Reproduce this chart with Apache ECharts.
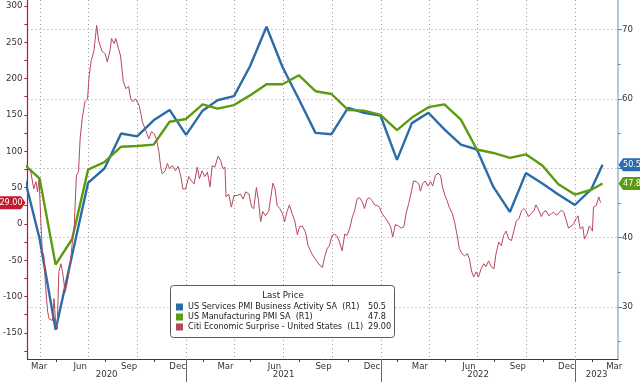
<!DOCTYPE html>
<html><head><meta charset="utf-8">
<script src="https://cdn.jsdelivr.net/npm/echarts@6/dist/echarts.min.js"></script>
<style>html,body{margin:0;padding:0;background:#fff}#c{width:640px;height:382px}</style>
</head><body><div id="c"></div>
<script>
// ---------- data ----------
const seriesNames = ['US Services PMI Business Activity SA', 'US Manufacturing PMI SA', 'Citi Economic Surprise - United States'];
const axisTags = ['R1', 'R1', 'L1'];
const pmiDates = ['2020-02-29','2020-03-31','2020-04-30','2020-05-31','2020-06-30','2020-07-31','2020-08-31','2020-09-30','2020-10-31','2020-11-30','2020-12-31',
  '2021-01-31','2021-02-28','2021-03-31','2021-04-30','2021-05-31','2021-06-30','2021-07-31','2021-08-31','2021-09-30','2021-10-31','2021-11-30','2021-12-31',
  '2022-01-31','2022-02-28','2022-03-31','2022-04-30','2022-05-31','2022-06-30','2022-07-31','2022-08-31','2022-09-30','2022-10-31','2022-11-30','2022-12-31',
  '2023-01-31','2023-02-21'];
const servicesPMI = [49.4,39.8,26.7,37.5,47.9,50.0,55.0,54.6,56.9,58.4,54.8,
  58.3,59.8,60.4,64.7,70.4,64.6,59.9,55.1,54.9,58.7,58.0,57.6,
  51.2,56.5,58.0,55.6,53.4,52.7,47.3,43.7,49.3,47.8,46.2,44.7,
  47.0,50.5];
const manufacturingPMI = [50.7,48.5,36.1,39.8,49.8,50.9,53.1,53.2,53.4,56.7,57.1,
  59.2,58.6,59.1,60.5,62.1,62.1,63.4,61.1,60.7,58.4,58.3,57.7,
  55.5,57.3,58.8,59.2,57.0,52.7,52.2,51.5,52.0,50.4,47.7,46.2,
  46.9,47.8];
const citiDates = ['2020-03-08','2020-03-14','2020-03-20','2020-03-24','2020-03-27','2020-03-30','2020-04-02','2020-04-05','2020-04-08','2020-04-11',
  '2020-04-15','2020-04-18','2020-04-24','2020-04-27','2020-04-30','2020-05-03','2020-05-06','2020-05-10','2020-05-13','2020-05-18',
  '2020-05-22','2020-05-27','2020-06-01','2020-06-04','2020-06-08','2020-06-12','2020-06-15','2020-06-19','2020-06-24','2020-06-29',
  '2020-07-02','2020-07-06','2020-07-11','2020-07-16','2020-07-20','2020-07-26','2020-08-01','2020-08-05','2020-08-10','2020-08-13',
  '2020-08-18','2020-08-21','2020-08-26','2020-08-30','2020-09-04','2020-09-09','2020-09-14','2020-09-18','2020-09-22','2020-09-27',
  '2020-10-04','2020-10-10','2020-10-15','2020-10-22','2020-10-27','2020-11-01','2020-11-05','2020-11-10','2020-11-13','2020-11-16',
  '2020-11-21','2020-11-26','2020-11-30','2020-12-05','2020-12-11','2020-12-16','2020-12-21','2020-12-25','2020-12-30','2021-01-05',
  '2021-01-10','2021-01-15','2021-01-21','2021-01-25','2021-01-30','2021-02-04','2021-02-09','2021-02-14','2021-02-18','2021-02-23',
  '2021-03-01','2021-03-06','2021-03-10','2021-03-14','2021-03-16','2021-03-21','2021-03-26','2021-03-31','2021-04-06','2021-04-12',
  '2021-04-17','2021-04-22','2021-04-28','2021-05-03','2021-05-07','2021-05-12','2021-05-16','2021-05-20','2021-05-24','2021-05-29',
  '2021-06-04','2021-06-12','2021-06-16','2021-06-20','2021-06-25','2021-06-30','2021-07-04','2021-07-09','2021-07-13','2021-07-18',
  '2021-07-23','2021-07-28','2021-08-01','2021-08-06','2021-08-12','2021-08-17','2021-08-24','2021-08-30','2021-09-03','2021-09-08',
  '2021-09-13','2021-09-17','2021-09-22','2021-09-26','2021-10-01','2021-10-06','2021-10-11','2021-10-15','2021-10-20','2021-10-25',
  '2021-10-29','2021-11-03','2021-11-08','2021-11-12','2021-11-17','2021-11-22','2021-11-27','2021-12-01','2021-12-06','2021-12-10',
  '2021-12-15','2021-12-20','2021-12-25','2021-12-29','2022-01-03','2022-01-08','2022-01-13','2022-01-19','2022-01-23','2022-01-28',
  '2022-02-03','2022-02-08','2022-02-13','2022-02-17','2022-02-22','2022-02-27','2022-03-03','2022-03-08','2022-03-13','2022-03-16',
  '2022-03-20','2022-03-25','2022-03-30','2022-04-04','2022-04-08','2022-04-13','2022-04-18','2022-04-23','2022-04-26','2022-05-01',
  '2022-05-05','2022-05-09','2022-05-15','2022-05-19','2022-05-24','2022-05-28','2022-06-02','2022-06-07','2022-06-12','2022-06-16',
  '2022-06-20','2022-06-24','2022-06-29','2022-07-03','2022-07-08','2022-07-13','2022-07-17','2022-07-22','2022-07-27','2022-08-01',
  '2022-08-05','2022-08-10','2022-08-15','2022-08-19','2022-08-24','2022-08-29','2022-09-03','2022-09-07','2022-09-12','2022-09-17',
  '2022-09-22','2022-09-26','2022-09-30','2022-10-05','2022-10-10','2022-10-15','2022-10-19','2022-10-24','2022-10-29','2022-11-02',
  '2022-11-07','2022-11-12','2022-11-17','2022-11-21','2022-11-26','2022-11-30','2022-12-06','2022-12-10','2022-12-14','2022-12-19',
  '2022-12-24','2022-12-29','2023-01-02','2023-01-06','2023-01-10','2023-01-15','2023-01-18','2023-01-23','2023-01-27','2023-01-31',
  '2023-02-02','2023-02-04','2023-02-09','2023-02-12','2023-02-14','2023-02-17','2023-02-18'];
const citiSurprise = [76,73,48,58,44,62,7,-39,-44,-85,
  -121,-131,-133,-103,-135,-145,-66,-55,-66,-94,
  -80,-58,-21,-3,66,72,117,145,168,172,
  204,225,238,273,251,238,234,223,238,255,
  248,255,241,231,196,186,189,172,168,172,
  163,140,131,117,127,124,117,99,80,69,
  72,83,76,80,73,79,66,48,48,65,
  59,55,78,62,73,65,71,51,80,78,
  93,87,76,78,37,41,23,39,39,41,
  34,44,41,23,21,50,32,3,17,11,
  17,56,48,25,21,14,3,18,26,14,
  4,-15,-4,-3,-11,-30,-41,-48,-52,-57,
  -60,-46,-34,-30,-16,-14,-18,-25,-37,-14,
  -16,-7,9,17,34,36,30,21,34,36,
  32,26,25,23,14,9,4,-4,-18,-1,
  -3,-6,-4,14,28,44,59,58,55,45,
  55,59,52,58,52,66,70,66,52,39,
  32,23,14,3,-16,-34,-41,-44,-41,-48,
  -65,-73,-66,-73,-62,-55,-59,-51,-59,-62,
  -41,-25,-30,-16,-10,-21,-23,-11,4,7,
  18,21,18,10,14,18,26,19,10,16,
  18,11,14,16,12,14,19,16,7,-6,
  -3,0,7,11,-7,-4,-21,-14,-3,-7,
  -10,23,25,26,37,30,29];
const monthTickLabels = ['Mar', 'Jun', 'Sep', 'Dec'];
const yearLabels = ['2020', '2021', '2022', '2023'];
const leftLabels = [-150, -100, -50, 0, 50, 100, 150, 200, 250, 300];
const rightLabels = [30, 40, 60, 70];
const rightGrid = [30, 40, 50, 60, 70];
const rightMinor = [25, 35, 45, 55, 65];

// ---------- layout helpers ----------
const FONT = "'Liberation Sans Narrow','DejaVu Sans Condensed','Liberation Sans',Arial,sans-serif";
const xMin = '2020-03-08', xMax = '2023-03-22';
const t = s => { const p = s.split('-').map(Number); return Date.UTC(p[0], p[1] - 1, p[2]); };
const pad = n => (n < 10 ? '0' : '') + n;
const inRange = v => v >= t(xMin) && v <= t(xMax);
const years = [2020, 2021, 2022, 2023];
const labelMonths = [3, 6, 9, 12];
const monthLabelValues = [], quarterStarts = [], midTicks = [], yearStarts = [], yearMids = [];
years.forEach(y => {
  labelMonths.forEach(m => { const v = t(`${y}-${pad(m)}-15`); if (inRange(v)) monthLabelValues.push(v); });
  [1, 4, 7, 10].forEach(m => { const v = t(`${y}-${pad(m)}-01`); if (inRange(v)) quarterStarts.push(v); });
  [2, 5, 8, 11].forEach(m => { const v = t(`${y}-${pad(m)}-01`); if (inRange(v)) midTicks.push(v); });
  const ys = t(`${y}-01-01`), ye = t(`${y + 1}-01-01`);
  if (inRange(ys)) yearStarts.push(ys);
  yearMids.push((Math.max(ys, t(xMin)) + Math.min(ye, t(xMax))) / 2);
});
const leftTicks = [];
for (let v = -175; v <= 300; v += 25) leftTicks.push(v);

const COLORS = ['#2b6ca8', '#5c9a10', '#b5485c'];
const last = a => a[a.length - 1];
const lastText = [last(servicesPMI).toFixed(1), last(manufacturingPMI).toFixed(1), last(citiSurprise).toFixed(2)];

const gridRect = { left: 27, right: 22, top: 0, bottom: 23 };
const baseX = { type: 'value', min: t(xMin), max: t(xMax), scale: true };
const lbl = { fontFamily: FONT, fontSize: 9.5, color: '#333' };
const LF = 9;

const chart = echarts.init(document.getElementById('c'), null, { renderer: 'canvas' });
chart.setOption({
  animation: false,
  backgroundColor: '#fff',
  grid: [Object.assign({}, gridRect), Object.assign({}, gridRect)],
  xAxis: [
    Object.assign({}, baseX, {
      gridIndex: 0, position: 'bottom',
      axisLine: { show: true, onZero: false, lineStyle: { color: '#3a3a3a', width: 1 } },
      axisTick: { show: true, customValues: midTicks, length: 3, lineStyle: { color: '#3a3a3a' } },
      axisLabel: Object.assign({ show: true, customValues: monthLabelValues, margin: 3, alignMinLabel: 'left',
        formatter: v => monthTickLabels[labelMonths.indexOf(new Date(v).getUTCMonth() + 1)] }, lbl),
      splitLine: { show: false }
    }),
    Object.assign({}, baseX, {
      gridIndex: 0, position: 'top',
      axisLine: { show: false, onZero: false }, axisLabel: { show: false },
      axisTick: { show: false, customValues: quarterStarts },
      splitLine: { show: true, lineStyle: { color: '#9c9c9c', width: 1, type: [1, 3] } }
    }),
    Object.assign({}, baseX, {
      gridIndex: 1, position: 'bottom',
      axisLine: { show: false, onZero: false },
      axisTick: { show: true, customValues: yearStarts, length: 23, lineStyle: { color: '#666' } },
      axisLabel: Object.assign({ show: true, customValues: yearMids, margin: 11,
        formatter: v => yearLabels[new Date(v).getUTCFullYear() - years[0]] }, lbl),
      splitLine: { show: false }
    })
  ],
  yAxis: [
    {
      type: 'value', gridIndex: 0, position: 'left', min: -186, max: 308,
      axisLine: { show: true, lineStyle: { color: '#a81f36', width: 1.2 } },
      axisTick: { show: true, customValues: leftTicks, length: 3, lineStyle: { color: '#a81f36' } },
      axisLabel: Object.assign({ show: true, customValues: leftLabels, margin: 5 }, lbl),
      splitLine: { show: false }
    },
    {
      type: 'value', gridIndex: 0, position: 'right', min: 22.5, max: 74.25,
      axisLine: { show: true, lineStyle: { color: '#9dbbd0', width: 1.6 } },
      axisTick: { show: true, customValues: rightGrid, length: 4, lineStyle: { color: '#5f84a3' } },
      axisLabel: Object.assign({ show: true, customValues: rightLabels, margin: 4 }, lbl),
      splitLine: { show: true, lineStyle: { color: '#9c9c9c', width: 1, type: [1, 3] } }
    },
    {
      type: 'value', gridIndex: 1, position: 'right', min: 22.5, max: 74.25,
      axisLine: { show: false },
      axisTick: { show: true, customValues: rightMinor, length: 2.5, lineStyle: { color: '#5f84a3' } },
      axisLabel: { show: false }, splitLine: { show: false }
    }
  ],
  legend: {
    left: 176, top: 302, orient: 'vertical', itemWidth: 7, itemHeight: 7, itemGap: 0,
    icon: 'rect', selectedMode: false, padding: 0, z: 6,
    data: seriesNames,
    formatter: name => { const i = seriesNames.indexOf(name); return `{n|${name}  (${axisTags[i]})}{v|${lastText[i]}}`; },
    textStyle: {
      fontFamily: FONT, fontSize: LF, color: '#222', lineHeight: 10,
      rich: { n: { width: 180, fontFamily: FONT, fontSize: LF, lineHeight: 10, color: '#222' },
              v: { fontFamily: FONT, fontSize: LF, lineHeight: 10, color: '#222' } }
    }
  },
  series: [
    { name: seriesNames[0], type: 'line', xAxisIndex: 0, yAxisIndex: 1, showSymbol: false, symbol: 'none',
      color: COLORS[0], lineStyle: { width: 2.4, color: COLORS[0] }, z: 3,
      data: pmiDates.map((d, i) => [t(d), servicesPMI[i]]) },
    { name: seriesNames[1], type: 'line', xAxisIndex: 0, yAxisIndex: 1, showSymbol: false, symbol: 'none',
      color: COLORS[1], lineStyle: { width: 2.4, color: COLORS[1] }, z: 3,
      data: pmiDates.map((d, i) => [t(d), manufacturingPMI[i]]) },
    { name: seriesNames[2], type: 'line', xAxisIndex: 0, yAxisIndex: 0, showSymbol: false, symbol: 'none',
      color: COLORS[2], lineStyle: { width: 1, color: COLORS[2] }, z: 4,
      data: citiDates.map((d, i) => [t(d), citiSurprise[i]]) }
  ]
});

// ---------- last-price tags and legend box, placed through the axes' scales ----------
const yS = chart.convertToPixel({ yAxisIndex: 1 }, last(servicesPMI));
const yM = chart.convertToPixel({ yAxisIndex: 1 }, last(manufacturingPMI));
const yC = chart.convertToPixel({ yAxisIndex: 0 }, last(citiSurprise));
const tagFont = { fontFamily: FONT, fontSize: 9, fill: '#fff' };
function rightTag(y, color, text) {
  return [
    { type: 'polygon', z: 10, shape: { points: [[640, y - 6.5], [623, y - 6.5], [618.5, y], [623, y + 6.5], [640, y + 6.5]] }, style: { fill: color } },
    { type: 'text', z: 11, x: 623, y: y, style: Object.assign({ text: text, align: 'left', verticalAlign: 'middle' }, tagFont) }
  ];
}
const graphics = [
  { type: 'rect', z: 5, shape: { x: 170.5, y: 285.5, width: 224, height: 52, r: 3 }, style: { fill: '#fff', stroke: '#5a5a5a', lineWidth: 1 } },
  { type: 'text', z: 6, x: 283, y: 296, style: { text: 'Last Price', align: 'center', verticalAlign: 'middle', fontFamily: FONT, fontSize: 9.5, fill: '#222' } },
  { type: 'polygon', z: 10, shape: { points: [[0, yC - 6.5], [21, yC - 6.5], [25.5, yC], [21, yC + 6.5], [0, yC + 6.5]] }, style: { fill: '#c41a30' } },
  { type: 'text', z: 11, x: 11, y: yC, style: Object.assign({ text: lastText[2], align: 'center', verticalAlign: 'middle' }, tagFont) }
].concat(rightTag(yS, '#2c6db0', lastText[0]), rightTag(yM, '#5c9a12', lastText[1]));
chart.setOption({ graphic: graphics });
</script>
</body></html>
